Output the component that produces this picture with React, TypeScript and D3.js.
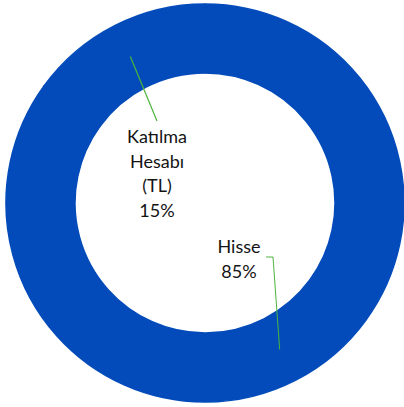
import React from 'react';
import * as d3 from 'd3';

const categories = ['Hisse', 'Katılma Hesabı (TL)'];
const labelLines = [['Hisse', '85%'], ['Katılma', 'Hesabı', '(TL)', '15%']];
const values = [85, 15];

const width = 404,
  height = 407,
  cx = 205,
  cy = 203,
  outerR = 199,
  innerR = 130;

const blue = '#034bba';
const leaderGreen = '#4cb43c';

// where the text block sits, relative to the donut centre (dx, dy of first line)
const labelOffset = [
  { x: 34, y: 44, hook: [61, 54] },
  { x: -48, y: -66, hook: null },
];

const App = () => {
  const pie = d3
    .pie<number>()
    .sort(null)
    .value((d) => d);
  const arc = d3.arc<d3.PieArcDatum<number>>().outerRadius(outerR).innerRadius(innerR);
  const midArc = d3
    .arc<d3.PieArcDatum<number>>()
    .outerRadius((outerR + innerR) / 2)
    .innerRadius((outerR + innerR) / 2);
  const slices = pie(values);

  return (
    <svg
      width={width}
      height={height}
      style={{ position: 'absolute', left: 0, top: 0, display: 'block', background: 'white' }}
    >
      <g transform={'translate(' + cx + ',' + cy + ')'}>
        {slices.map((s, i) => (
          <path key={'s' + i} d={arc(s) || ''} fill={blue} stroke={blue} strokeWidth={1.5} strokeLinejoin="round" />
        ))}
        {slices.map((s, i) => {
          const [mx, my] = midArc.centroid(s);
          const off = labelOffset[i];
          const lines = labelLines[i];
          let leader;
          if (off.hook) {
            leader = (
              <polyline
                points={`${off.hook[0]},${off.hook[1]} ${off.hook[0] + 7},${off.hook[1]} ${mx},${my}`}
                fill="none"
                stroke={leaderGreen}
                strokeWidth={1}
              />
            );
          } else {
            leader = <line x1={mx} y1={my} x2={off.x} y2={off.y - 16} stroke={leaderGreen} strokeWidth={1.2} />;
          }
          return (
            <g key={'l' + i}>
              {leader}
              <text
                textAnchor="middle"
                style={{ fontFamily: 'Lato, "Open Sans", sans-serif', fontSize: '18px', fill: '#141414' }}
              >
                {lines.map((ln, j) => (
                  <tspan key={j} x={off.x} y={off.y + j * 24.7 + 6}>
                    {ln}
                  </tspan>
                ))}
              </text>
              <title>{categories[i]}</title>
            </g>
          );
        })}
      </g>
    </svg>
  );
};

export default App;
